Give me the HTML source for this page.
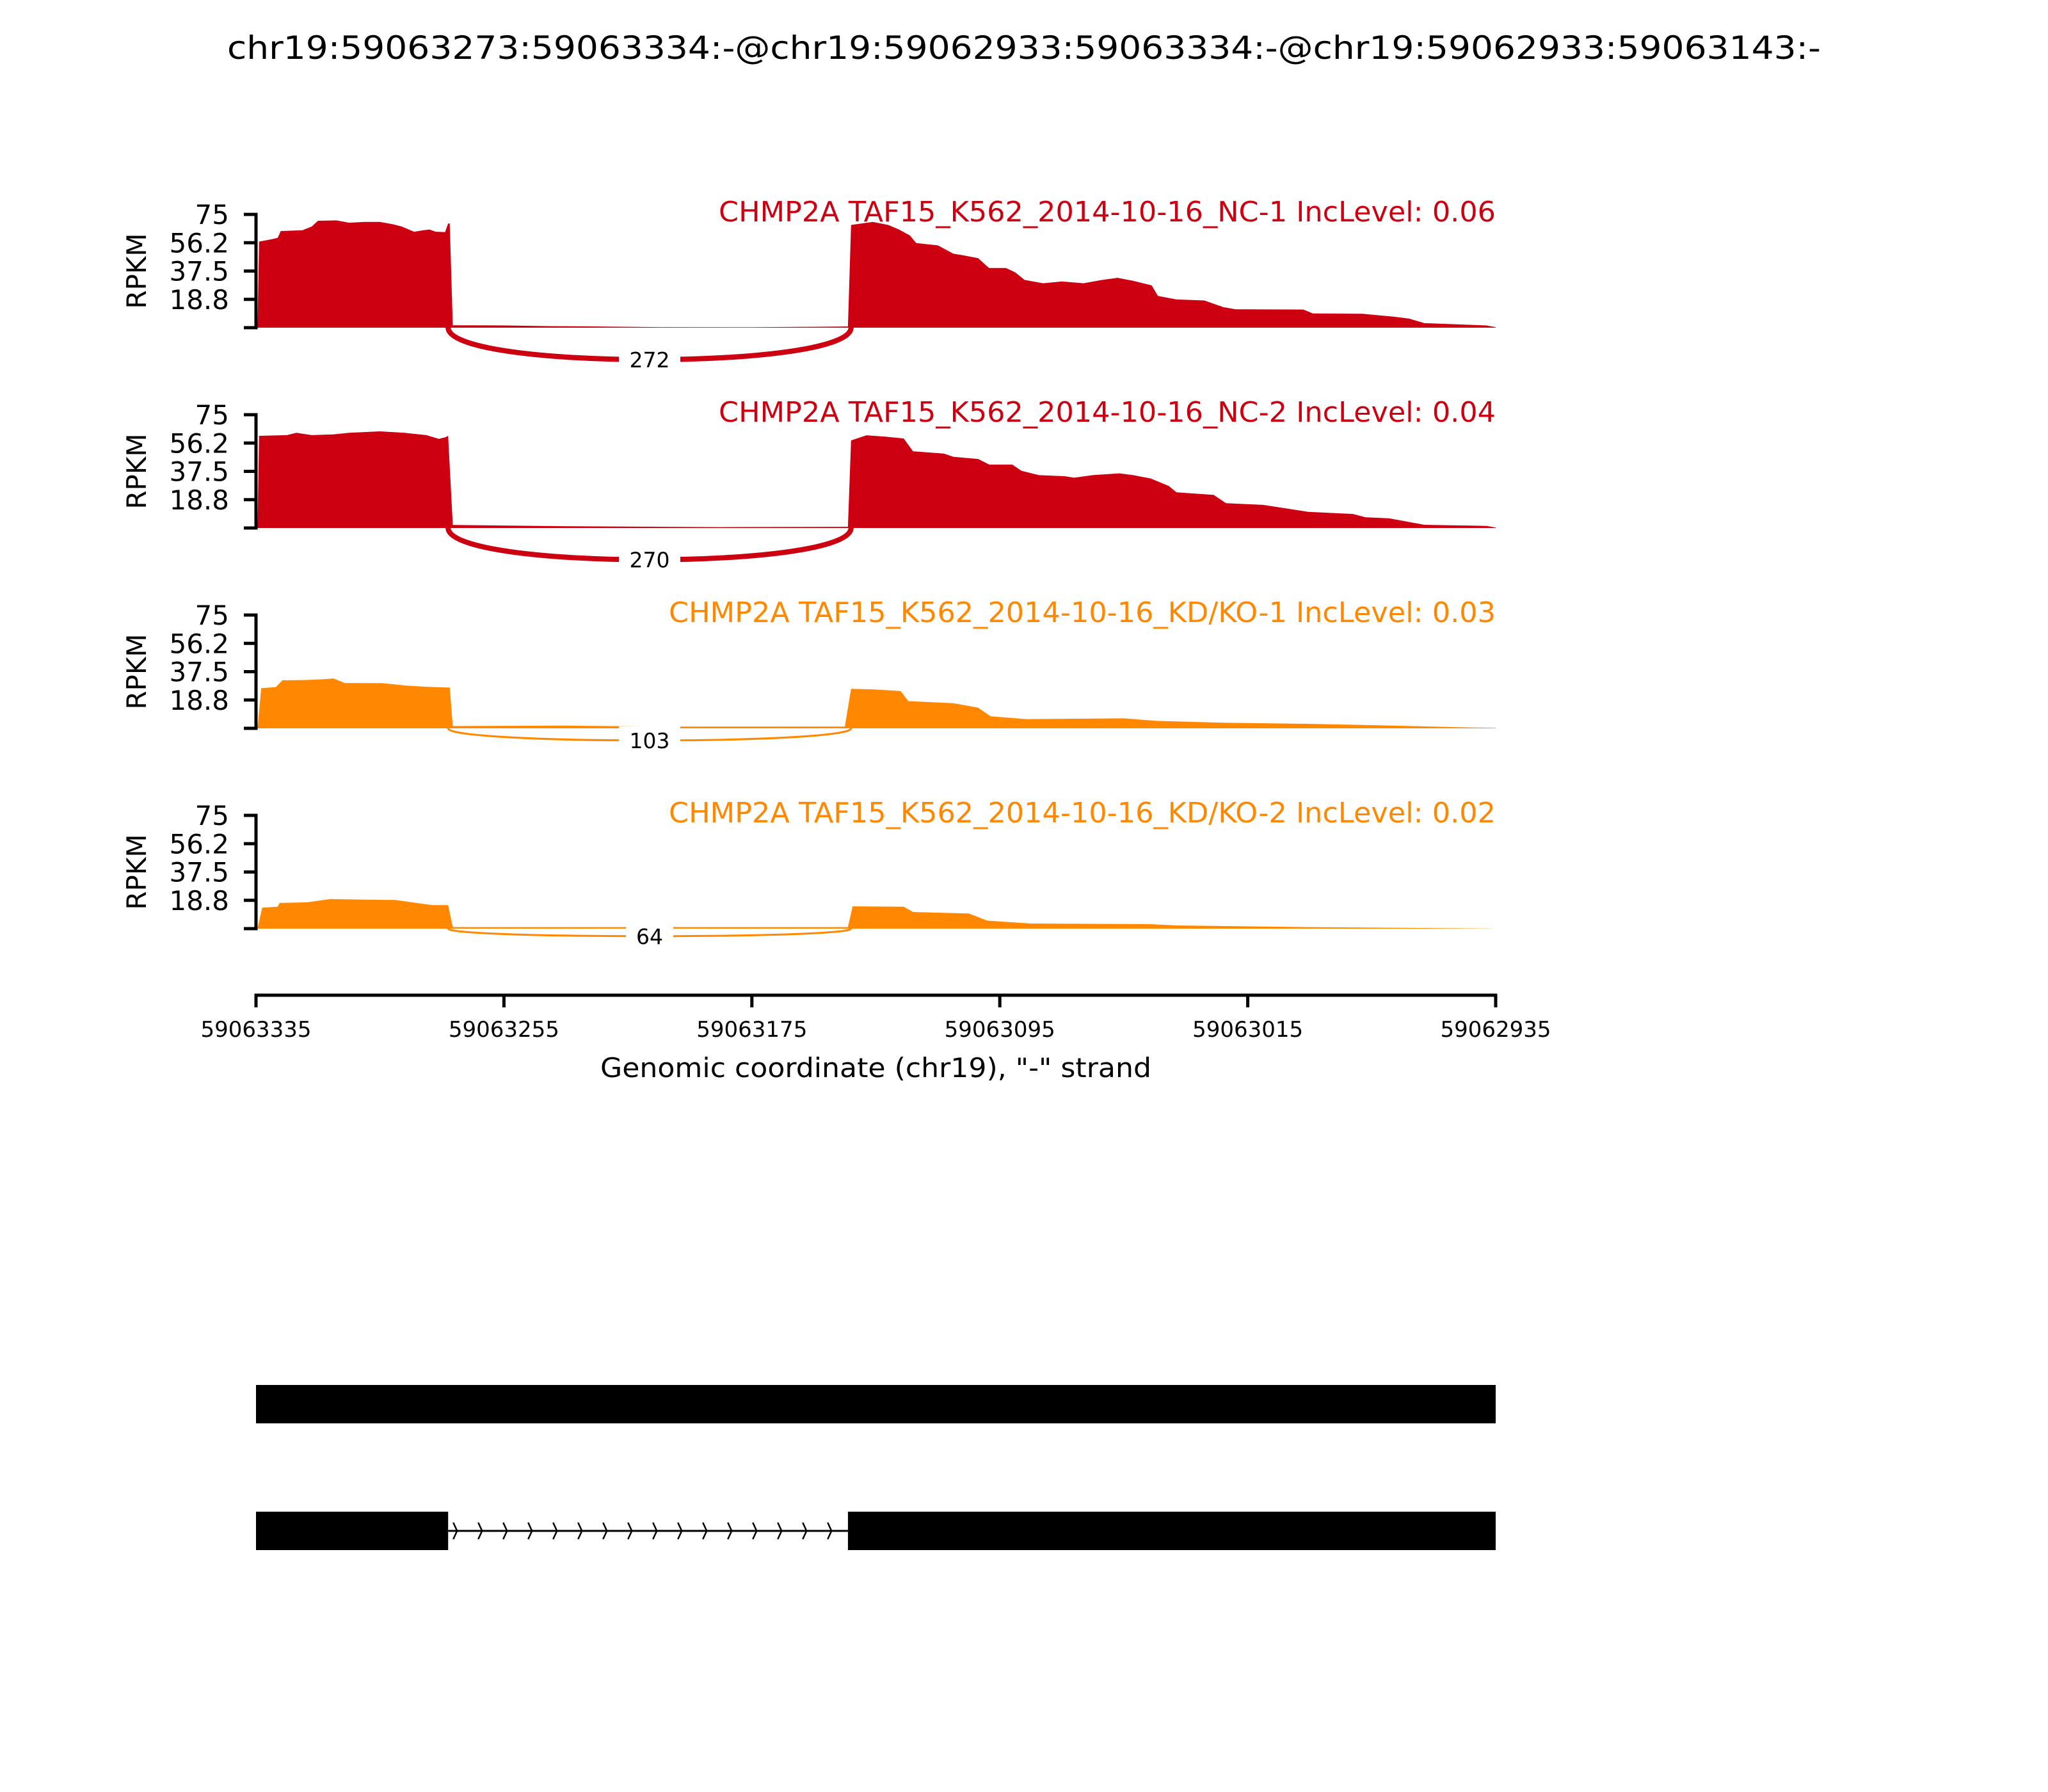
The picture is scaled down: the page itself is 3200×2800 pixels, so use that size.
<!DOCTYPE html>
<html><head><meta charset="utf-8"><title>sashimi plot</title>
<style>html,body{margin:0;padding:0;background:#fff}svg{display:block;font-family:"DejaVu Sans","Liberation Sans",sans-serif}</style>
</head><body>
<svg id="fig" xmlns="http://www.w3.org/2000/svg" width="3200" height="2800" viewBox="0 0 3200 2800">
<rect width="3200" height="2800" fill="#fff"/>
<text x="1600" y="92" font-size="50" text-anchor="middle" textLength="2490" lengthAdjust="spacingAndGlyphs">chr19:59063273:59063334:-@chr19:59062933:59063334:-@chr19:59062933:59063143:-</text>
<g id="panels"></g>
<g id="xaxis"></g>
<g id="gene"></g>
</svg>
<script>
// ---- data ----
const regionStart = 59063335, regionEnd = 59062935;
const xTickLabels = ["59063335","59063255","59063175","59063095","59063015","59062935"];
const yTickValues = [0, 18.75, 37.5, 56.25, 75];
const yTickLabels = ["", "18.8", "37.5", "56.2", "75"];
const yMax = 75;
const panelLabels = ["CHMP2A TAF15_K562_2014-10-16_NC-1 IncLevel: 0.06","CHMP2A TAF15_K562_2014-10-16_NC-2 IncLevel: 0.04","CHMP2A TAF15_K562_2014-10-16_KD/KO-1 IncLevel: 0.03","CHMP2A TAF15_K562_2014-10-16_KD/KO-2 IncLevel: 0.02"];
const junctionCounts = [272, 270, 103, 64];
const junctionStart = 59063273, junctionEnd = 59063143;
// coverage: offsets in bp from 59063335 and RPKM values
const cov1Offset = [0.5,1,5,7,8,15,18,20,26,30,35,40,44,47,51,54,56,58,61,62,62.5,63.5,80,95,110,130,160,180,191,192,199,204,207.5,211,213,220,225,228,233,236.5,242,245,248,254,260,267,273,278,283,289,291,297,306,312,316,338,341,357,367,372,377,397,400];
const cov1Value = [0,57,58.5,59.5,64,64.5,67,70.8,71,69.5,70,70,68.5,67,63.5,64.5,65,63.5,63.3,69,69,1.6,1.5,1,0.8,0.4,0.3,0.6,0.8,68,70,68,65,61,56,54.5,49,48,46,39.5,39.5,36.6,31.6,29.4,30.6,29.4,31.6,33,31,28,21,18.7,18,13.7,12.2,12,9.4,9.2,7.3,6,3,1.5,0.3];
const cov2Offset = [0.5,1,10,13,18,25,30,40,48,55,59,61,62,63.5,100,150,191,192,197,203,209,212,222,225,233,236.6,244,247,252.6,261,264,270,278.6,283,288.7,294.5,297,309,313,325,339.5,354,358,365.6,377,397,400];
const cov2Value = [0,61,61.5,63,61.5,62,63,64,63,61.5,59,60,61,2,1.2,0.6,0.8,58,61.4,60.5,59.3,50.8,49.3,47.1,45.7,42,42,37.9,35,34.3,33.3,35,36.2,35,32.8,27.9,23.6,21.9,16.4,15.3,10.7,9.3,7.1,6.4,2.1,1.4,0.3];
const cov3Offset = [0.5,1.7,6.4,8.5,16,22,25,28.7,40.7,48.5,55,61.7,62.5,63.5,100,130,190,192,198.7,208,210.5,225,233,237,248.6,280,290.7,312,338,364.6,391,400];
const cov3Value = [0,26.6,27.3,31.8,32,32.5,33,30,29.9,28.3,27.5,27,27,1.5,1.8,1.2,1.2,26.2,25.8,24.7,18,16.6,13.7,8,6.1,6.6,4.9,3.7,3,1.9,0.6,0.3];
const cov4Offset = [0.5,2,7,7.6,16.5,24,36,45,51,57,62,63.5,191,192.5,209,212,230,236,250,288,297,339,397,400];
const cov4Value = [0,13.9,14.5,17,17.4,19.6,19.2,19,17.2,15.6,15.6,1,1,14.8,14.5,11,10,5.3,3.4,3,2.1,1,0.1,0];
const geneModel1 = [[59063335, 59062935]];
const geneModel2 = [[59063335, 59063273], [59063144, 59062935]];

// ---- layout ----
const NS = "http://www.w3.org/2000/svg";
const X0 = 400, X1 = 2337;
const panelTops = [335, 648, 961, 1274];
const panelH = 177;
const colors = ["#cc0011","#cc0011","#ff8800","#ff8800"];
const labelWidths = [1214, 1214, 1292, 1292];
const covOffsets = [cov1Offset, cov2Offset, cov3Offset, cov4Offset];
const covValues = [cov1Value, cov2Value, cov3Value, cov4Value];
function xg(g){ return X0 + (regionStart - g) / (regionStart - regionEnd) * (X1 - X0); }
function xo(o){ return xg(regionStart - o); }
function mk(tag, attrs, parent){ const e = document.createElementNS(NS, tag); for (const k in attrs) e.setAttribute(k, attrs[k]); parent.appendChild(e); return e; }

const panels = document.getElementById('panels');
for (let p = 0; p < 4; p++) {
  const top = panelTops[p], base = top + panelH;
  const yv = v => base - v / yMax * panelH;
  const g = mk('g', {}, panels);
  
  
  const offs = covOffsets[p], vals = covValues[p];
  let d = 'M' + xo(offs[0]).toFixed(1) + ',' + base;
  for (let i = 0; i < offs.length; i++) d += ' L' + xo(offs[i]).toFixed(1) + ',' + yv(vals[i]).toFixed(1);
  d += ' L' + xo(offs[offs.length-1]).toFixed(1) + ',' + base + ' Z';
  const area = mk('path', {d: d, fill: colors[p]}, g);
  
  
  const ax = mk('line', {x1: X0, y1: top, x2: X0, y2: base, stroke: '#000', 'stroke-width': 5}, g);
  
  
  for (let t = 0; t < yTickValues.length; t++) {
    const ty = yv(yTickValues[t]);
    const tk = mk('line', {x1: X0 - 19, y1: ty, x2: X0 + 2.5, y2: ty, stroke: '#000', 'stroke-width': 5}, g);
    
    
    if (yTickLabels[t]) {
      const tl = mk('text', {x: 358, y: ty + 15, 'font-size': 42, 'text-anchor': 'end'}, g);
      tl.textContent = yTickLabels[t];
      
      
    }
  }
  const yl = mk('text', {x: 228, y: top + panelH/2, 'font-size': 42, 'text-anchor': 'middle', transform: 'rotate(-90 228 ' + (top + panelH/2) + ')'}, g);
  yl.textContent = 'RPKM';
  
  
  const lab = mk('text', {x: X1, y: top + 11, 'font-size': 44, 'text-anchor': 'end', fill: colors[p], textLength: labelWidths[p], lengthAdjust: 'spacingAndGlyphs'}, g);
  lab.textContent = panelLabels[p];
  
  
  const c = junctionCounts[p];
  const xa = xg(junctionStart), xb = xg(junctionEnd);
  const h = c * 0.245;
  const w = Math.max(3, c * 0.03);
  const arc = mk('path', {d: 'M' + xa + ',' + base + ' C' + xa + ',' + (base + h) + ' ' + xb + ',' + (base + h) + ' ' + xb + ',' + base, fill: 'none', stroke: colors[p], 'stroke-width': w}, g);
  
  
  const midY = base + 0.75 * h;
  const bw = String(c).length * 22 + 30;
  const bb = mk('rect', {x: (xa + xb)/2 - bw/2, y: midY - 22, width: bw, height: 44, fill: '#fff'}, g);
  
  
  const jl = mk('text', {x: (xa + xb)/2, y: midY + 12, 'font-size': 33, 'text-anchor': 'middle'}, g);
  jl.textContent = String(c);
  
  
}

const xaxis = document.getElementById('xaxis');
const xl = mk('line', {x1: X0 - 2, y1: 1555, x2: X1 + 2, y2: 1555, stroke: '#000', 'stroke-width': 5}, xaxis);


for (let i = 0; i < xTickLabels.length; i++) {
  const tx = xg(Number(xTickLabels[i]));
  const tk = mk('line', {x1: tx, y1: 1553, x2: tx, y2: 1574, stroke: '#000', 'stroke-width': 5}, xaxis);
  
  
  const tl = mk('text', {x: tx, y: 1620, 'font-size': 34, 'text-anchor': 'middle'}, xaxis);
  tl.textContent = xTickLabels[i];
  
  
}
const xt = mk('text', {x: (X0 + X1)/2, y: 1683, 'font-size': 42, 'text-anchor': 'middle', textLength: 861, lengthAdjust: 'spacingAndGlyphs'}, xaxis);
xt.textContent = 'Genomic coordinate (chr19), "-" strand';



const gene = document.getElementById('gene');
function drawModel(exons, yc, name) {
  const g = mk('g', {}, gene);
  
  
  if (exons.length > 1) {
    const ia = xg(exons[0][1]), ib = xg(exons[1][0]);
    const ln = mk('line', {x1: ia, y1: yc, x2: ib, y2: yc, stroke: '#000', 'stroke-width': 3}, g);
    
    
    for (let ax = ia + 8; ax < ib; ax += 39) {
      const ch = mk('path', {d: 'M' + ax + ',' + (yc - 13) + ' L' + (ax + 6) + ',' + yc + ' L' + ax + ',' + (yc + 13), fill: 'none', stroke: '#000', 'stroke-width': 2.5}, g);
      
      
    }
  }
  for (const ex of exons) {
    const r = mk('rect', {x: xg(ex[0]), y: yc - 30, width: xg(ex[1]) - xg(ex[0]), height: 60, fill: '#000'}, g);
    
    
  }
}
drawModel(geneModel1, 2194, 'isoform-inclusion');
drawModel(geneModel2, 2392, 'isoform-exclusion');
</script>
</body></html>
